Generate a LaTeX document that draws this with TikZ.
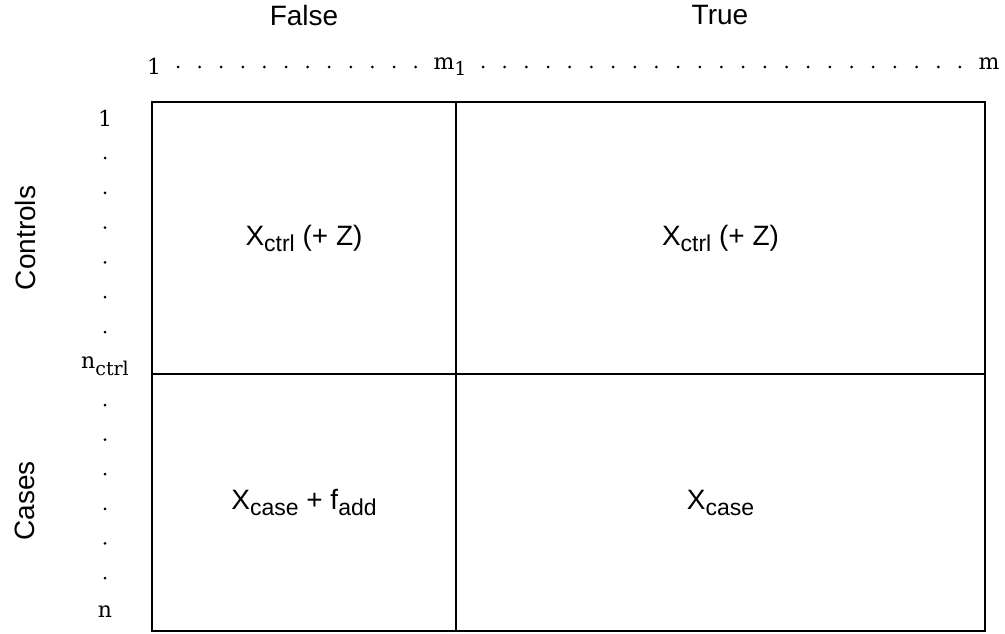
\documentclass[tikz,border=0pt]{standalone}
\usepackage{fontspec}
\newfontfamily\sansf{Liberation Sans}
\newfontfamily\seriff{DejaVu Serif}
\begin{document}
\begin{tikzpicture}[x=1pt,y=-1pt,
  lbl/.style={font=\sansf\fontsize{28}{32}\selectfont, inner sep=0},
  num/.style={font=\seriff\fontsize{22}{26}\selectfont, inner sep=0, anchor=base},
  dotm/.style={circle, fill=black, inner sep=0, minimum size=3pt},
  cell/.style={draw, line width=1.5pt, rectangle, inner sep=0, outer sep=0, anchor=north west,
    font=\sansf\fontsize{28}{32}\selectfont}]
\newcommand{\subtxt}[1]{\raisebox{-6pt}{\fontsize{23}{26}\selectfont #1}}
\newcommand{\nsub}[2]{\raisebox{-#1pt}{\fontsize{19}{22}\selectfont #2}}
\useasboundingbox (0,0) rectangle (1005,634);
% cells
\node[cell, minimum width=304pt, minimum height=272pt] (c11) at (152,102) {X\subtxt{ctrl} (+ Z)};
\node[cell, minimum width=529pt, minimum height=272pt] (c12) at (456,102) {X\subtxt{ctrl} (+ Z)};
\node[cell, minimum width=304pt, minimum height=257pt] (c21) at (152,374) {X\subtxt{case} + f\subtxt{add}};
\node[cell, minimum width=529pt, minimum height=257pt] (c22) at (456,374) {X\subtxt{case}};
% column labels
\node[lbl] (false) at (304,15) {False};
\node[lbl] (true) at (720,15) {True};
% row labels
\node[lbl, rotate=90] (controls) at (25,238) {Controls};
\node[lbl, rotate=90] (cases) at (25,501) {Cases};
% top index row
\node[num] (t1) at (154,75) {1};
\node[num] (tm1) at (450,70) {m\nsub{6}{1}};
\node[num] (tm) at (989,70) {m};
\foreach \i in {0,...,11} \node[dotm] (tl\i) at (178+21.6*\i,67) {};
\foreach \i in {0,...,22} \node[dotm] (tr\i) at (483+21.68*\i,67) {};
% left index column
\node[num] (l1) at (105,127) {1};
\node[num] (lnc) at (105,368) {n\nsub{7}{ctrl}};
\node[num] (ln) at (105,617) {n};
\foreach \i in {0,...,5} \node[dotm] (lu\i) at (105,158+34.8*\i) {};
\foreach \i in {0,...,5} \node[dotm] (ld\i) at (105,405+34.6*\i) {};
\end{tikzpicture}
\end{document}
